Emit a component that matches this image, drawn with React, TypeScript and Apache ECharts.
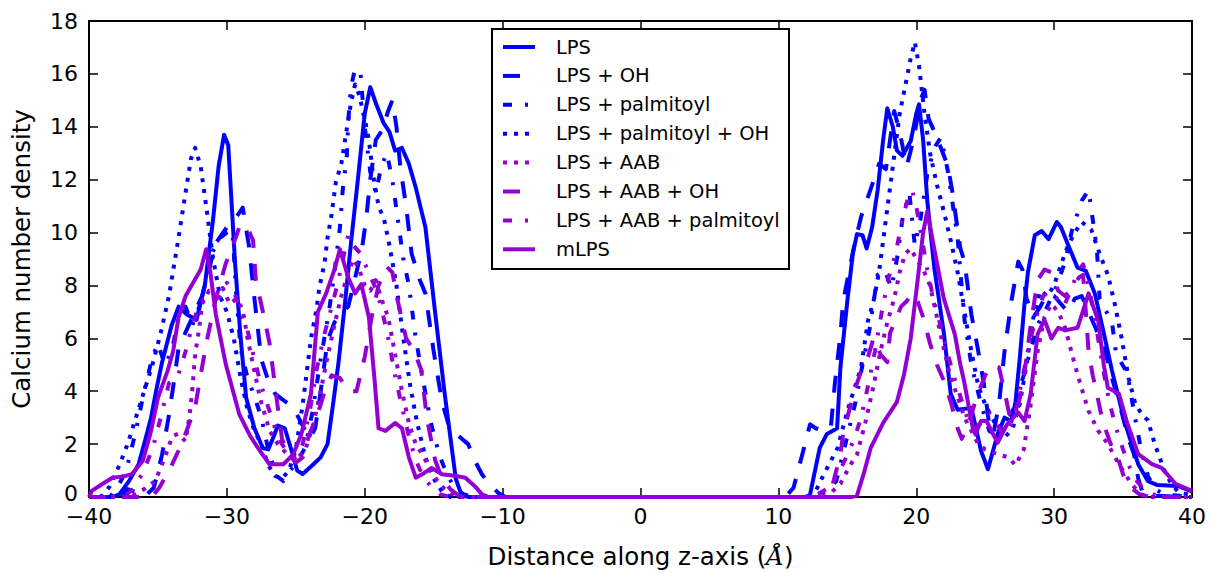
import React, { useEffect, useRef } from "react";
import * as echarts from "echarts";

type P = [number, number];

const BLUE = "#0000ff";
const PURPLE = "#9400d3";

const seriesNames = [
  "LPS",
  "LPS + OH",
  "LPS + palmitoyl",
  "LPS + palmitoyl + OH",
  "LPS + AAB",
  "LPS + AAB + OH",
  "LPS + AAB + palmitoyl",
  "mLPS",
];

const xTicks = [-40, -30, -20, -10, 0, 10, 20, 30, 40];
const yTicks = [0, 2, 4, 6, 8, 10, 12, 14, 16, 18];

const lps: P[] = [
  [-40, 0], [-38.3, 0], [-37.8, 0.1], [-37.1, 0.6], [-36.4, 1.24], [-35.9, 2.2], [-35.5, 3.0], [-35.1, 4.1],
  [-34.7, 5.1], [-34.3, 5.9], [-34, 6.5], [-33.5, 7.2], [-32.9, 6.9], [-32.2, 6.7], [-31.6, 8.0], [-31, 10.5],
  [-30.6, 12.5], [-30.2, 13.7], [-29.9, 13.3], [-29.7, 11.5], [-29.4, 8.8], [-29, 6], [-28.6, 3.75], [-28, 2.6],
  [-27.4, 1.85], [-27, 1.8], [-26.6, 2.3], [-26.3, 2.7], [-25.8, 2.6], [-25.3, 1.74], [-24.9, 1.0], [-24.5, 0.87],
  [-23.8, 1.2], [-23.2, 1.5], [-22.7, 2.0], [-22.3, 3.5], [-21.9, 5.1], [-21.4, 7.5], [-21.0, 9.6], [-20.5, 12],
  [-20.0, 14.5], [-19.6, 15.5], [-19.2, 14.9], [-18.65, 14.16], [-18.2, 13.8], [-17.8, 13.1], [-17.3, 13.2],
  [-16.8, 12.6], [-16.3, 11.7], [-15.6, 10.2], [-14.9, 7.0], [-14.2, 3.9], [-13.4, 0.7], [-13.0, 0.1], [-12.5, 0],
  [12.0, 0], [12.3, 0.1], [13.0, 1.86], [13.5, 2.37], [14.26, 2.6], [14.5, 4.9], [15.0, 7.4], [15.4, 9.2],
  [15.7, 9.94], [16.1, 9.9], [16.4, 9.4], [16.8, 10.2], [17.2, 11.6], [17.6, 13.5], [17.9, 14.7], [18.3, 14.0],
  [18.6, 13.1], [19.0, 12.9], [19.6, 13.46], [20.0, 14.5], [20.2, 14.85], [20.5, 13.5], [20.8, 11.2], [21.3, 8.7],
  [22.0, 6.2], [22.5, 3.9], [23.0, 3.3], [24.0, 3.37], [24.7, 1.74], [25.2, 1.05], [25.9, 2.37], [26.4, 3.0],
  [26.9, 2.87], [27.2, 3.6], [27.5, 5.2], [27.85, 7.3], [28.1, 8.5], [28.6, 9.9], [29.1, 10.06], [29.6, 9.75],
  [30.2, 10.4], [30.5, 10.2], [31.0, 9.55], [31.7, 8.67], [32.3, 8.55], [32.95, 7.7], [33.6, 6.2], [34.2, 4.77],
  [35.1, 2.87], [36.1, 1.24], [36.8, 0.6], [37.5, 0.45], [39.0, 0.42], [40, 0.2],
];

const lpsOH: P[] = [
  [-40, 0], [-37.6, 0], [-37.2, 0.3], [-36.7, 0.2], [-36, 0], [-35.3, 0.35], [-34.7, 1.6], [-34.2, 3.1],
  [-33.8, 4.5], [-33.5, 5.65], [-32.5, 6.8], [-31.8, 7.6], [-31.2, 8.8], [-30.8, 9.6], [-30, 10.2], [-29.3, 10.6],
  [-28.85, 10.94], [-28.4, 9.5], [-28, 7.5], [-27.5, 5.2], [-27, 4.4], [-26.5, 3.9], [-26, 3.7], [-25.2, 3.4],
  [-24.6, 2.8], [-24.0, 2.2], [-23.6, 2.6], [-23.3, 3.6], [-22.7, 5.9], [-22.2, 6.6], [-21.6, 7.0], [-21.2, 7.2],
  [-20.6, 8.5], [-20.2, 9.4], [-19.9, 10.5], [-19.6, 12.0], [-19.2, 13.5], [-18.7, 13.9], [-18.3, 14.6],
  [-18.0, 15.0], [-17.7, 14.0], [-17.4, 12.4], [-17.0, 11.0], [-16.6, 9.2], [-16.0, 8.2], [-15.6, 7.7],
  [-15.0, 5.5], [-14.4, 3.6], [-13.9, 2.7], [-13.4, 2.4], [-12.5, 2.0], [-12.0, 1.36], [-11.5, 0.86],
  [-11.0, 0.5], [-10.3, 0.15], [-9.8, 0],
  [10.5, 0], [11.1, 0.35], [11.8, 1.74], [12.3, 2.75], [12.7, 2.6], [13.3, 2.5], [13.8, 2.6], [14.1, 4.3],
  [14.5, 6.15], [14.7, 7.4], [15.0, 8.2], [15.5, 9.5], [16.0, 10.6], [16.8, 11.8], [17.3, 12.6], [17.8, 12.4],
  [18.4, 14.6], [18.8, 13.8], [19.3, 12.5], [19.8, 13.5], [20.3, 15.0], [20.6, 15.4], [20.9, 14.3], [21.5, 13.6],
  [22.3, 12.5], [22.6, 11.6], [23.2, 9.4], [23.5, 8.9], [24.0, 6.9], [24.5, 5.5], [24.9, 4.3], [25.3, 2.7],
  [25.6, 2.4], [26.0, 3.5], [26.4, 5.5], [26.9, 7.4], [27.4, 8.9], [27.7, 8.6], [28.0, 7.5], [28.5, 6.8],
  [29.0, 7.2], [29.5, 7.7], [30.0, 7.6], [30.5, 7.3], [31.0, 7.0], [31.5, 7.5], [32.0, 7.6], [32.5, 7.0],
  [33.0, 6.4], [33.7, 5.5], [34.3, 4.3], [34.8, 3.4], [35.4, 2.2], [35.8, 1.6], [36.1, 0.7], [36.4, 0.2],
  [37, 0.05], [40, 0],
];

const lpsPal: P[] = [
  [-40, 0], [-38.5, 0], [-38, 0.3], [-37.3, 1.0], [-36.6, 2.5], [-36, 4], [-35.4, 5.3], [-35, 5.8], [-34.5, 5.0],
  [-34, 5.5], [-33.5, 6.8], [-33, 7.2], [-32.5, 6.5], [-32, 7.2], [-31.5, 8.2], [-31, 9.3], [-30.5, 9.8],
  [-30, 10.0], [-29.6, 10.1], [-29.3, 7.5], [-29.0, 5.6], [-28.5, 4.5], [-28.0, 3.8], [-27.5, 3.0], [-27.0, 1.8],
  [-26.4, 0.8], [-25.9, 0.6], [-25.4, 1.0], [-24.8, 1.4], [-24.3, 1.9], [-23.8, 3.2], [-23.2, 5.2], [-22.6, 7.0],
  [-22.2, 8.5], [-21.8, 10.2], [-21.6, 11.6], [-21.3, 12.9], [-21.2, 14.2], [-21.0, 15.5], [-20.7, 16.2],
  [-20.3, 16.0], [-20.0, 14.0], [-19.6, 12.3], [-19.2, 11.5], [-18.8, 12.5], [-18.4, 13.0], [-18.0, 12.0],
  [-17.6, 10.5], [-17.2, 9.0], [-16.8, 8.0], [-16.3, 6.0], [-15.8, 4.5], [-15.2, 2.8], [-14.6, 1.6], [-14.0, 0.8],
  [-13.4, 0.3], [-12.8, 0.1], [-12, 0],
  [12.5, 0], [13.5, 0.2], [14.2, 0.6], [15, 2.3], [15.6, 3.6], [16.1, 5.0], [16.6, 6.3], [17.2, 8.4], [17.7, 8.6],
  [18.2, 7.9], [18.6, 9.0], [19.0, 10.5], [19.5, 11.5], [19.9, 9.5], [20.3, 10.5], [20.8, 12.2], [21.3, 13.2],
  [21.8, 13.6], [22.3, 12.3], [23.0, 9.8], [23.5, 6.7], [24.0, 5.0], [24.7, 3.5], [25.3, 2.5], [26.0, 2.3],
  [26.6, 2.8], [27.2, 3.5], [28, 5], [28.8, 6.5], [29.5, 7.2], [30.2, 8], [30.8, 8.9], [31.3, 10.1], [32, 11.2],
  [32.5, 11.6], [32.8, 10.5], [33.1, 9.4], [33.3, 7.5], [33.8, 7.0], [34.2, 6.6], [34.5, 5.4], [35.3, 4.7],
  [35.8, 3.2], [36.3, 1.8], [36.8, 0.8], [37.3, 0.3], [38, 0.1], [40, 0],
];

const lpsPalOH: P[] = [
  [-40, 0], [-39, 0.05], [-38.5, 0.4], [-37.8, 1.2], [-37.2, 2.0], [-36.6, 3.0], [-36.0, 4.0], [-35.4, 5.0],
  [-34.8, 6.2], [-34.2, 7.6], [-33.6, 9.5], [-33.0, 11.5], [-32.6, 12.8], [-32.3, 13.2], [-31.9, 12.5],
  [-31.5, 11.0], [-31.0, 9.0], [-30.5, 7.6], [-30.0, 7.0], [-29.5, 6.0], [-29.0, 4.5], [-28.5, 3.3], [-28.0, 2.5],
  [-27.5, 2.0], [-27.0, 1.2], [-26.5, 0.8], [-26.0, 0.7], [-25.5, 1.0], [-25.0, 1.8], [-24.5, 3.5], [-23.9, 6.0],
  [-23.5, 7.1], [-23.3, 7.9], [-22.9, 8.9], [-22.7, 9.8], [-22.4, 10.7], [-22.1, 11.9], [-21.7, 12.6],
  [-21.4, 13.6], [-21.0, 14.9], [-20.7, 15.6], [-20.4, 15.2], [-20.0, 14.3], [-19.7, 13.5], [-19.4, 12.2],
  [-19.0, 11.0], [-18.6, 10.5], [-18.2, 9.5], [-17.7, 8.0], [-17.2, 6.0], [-16.7, 4.2], [-16.2, 2.8],
  [-15.6, 1.5], [-15.0, 0.7], [-14.4, 0.2], [-13.8, 0],
  [12.5, 0], [13.3, 0.86], [14.3, 1.86], [15, 3.25], [16, 4.9], [16.5, 6.66], [16.9, 7.4], [17.3, 8.5],
  [17.8, 10.5], [18.3, 12.5], [18.8, 14.5], [19.3, 15.8], [19.6, 16.6], [19.9, 17.2], [20.2, 16.3], [20.6, 14.5],
  [21.0, 13.0], [21.5, 11.8], [22.0, 10.8], [22.5, 9.7], [23.0, 8.5], [23.5, 7.0], [24.0, 5.5], [24.5, 4.2],
  [25.0, 3.5], [25.5, 3.0], [26.0, 2.5], [26.5, 2.3], [27.0, 2.6], [27.5, 3.5], [28, 5], [28.5, 6.8], [29, 7.8],
  [29.5, 7.6], [30, 8.0], [30.5, 8.8], [31, 9.5], [31.5, 10.0], [32, 10.4], [32.7, 10.1], [33.3, 9.2],
  [33.9, 8.4], [34.4, 7.3], [34.9, 6.0], [35.4, 4.5], [35.9, 3.5], [36.4, 3.1], [36.8, 2.9], [37.3, 2.0],
  [38, 1.0], [38.5, 0.5], [39, 0.2], [40, 0.05],
];

const lpsAAB: P[] = [
  [-40, 0], [-37, 0], [-36, 0.3], [-35.2, 0.6], [-34.5, 1.5], [-33.95, 2.3], [-33.5, 2.4], [-33, 2.1],
  [-32.7, 3.1], [-32.5, 4.1], [-32.3, 5.4], [-32, 6.4], [-31.8, 7.3], [-31.3, 7.8], [-30.8, 7.6], [-30.3, 7.9],
  [-29.8, 7.3], [-29.3, 7.5], [-28.85, 7.1], [-28.5, 6.0], [-28.1, 5.0], [-27.6, 3.75], [-26.9, 2.5],
  [-26.3, 2.0], [-25.6, 1.6], [-25, 1.4], [-24.3, 1.8], [-23.7, 2.8], [-23.2, 4.0], [-22.7, 5.3], [-22.2, 6.5],
  [-21.7, 7.6], [-21.2, 8.5], [-20.8, 9.0], [-20.4, 8.6], [-20.0, 8.0], [-19.6, 7.8], [-19.2, 8.2],
  [-18.8, 7.5], [-18.3, 6.8], [-17.8, 5.4], [-17.3, 4.0], [-16.8, 2.8], [-16.3, 2.0], [-15.8, 1.6],
  [-15.2, 1.0], [-14.6, 0.5], [-14.0, 0.2], [-13.3, 0],
  [13.5, 0], [14.5, 0.5], [15.2, 1.2], [15.7, 1.6], [16.3, 2.8], [16.9, 4.2], [17.4, 5.5], [17.9, 6.6],
  [18.4, 7.5], [18.8, 8.5], [19.2, 9.2], [19.6, 9.4], [20.0, 9.0], [20.5, 8.6], [21.0, 8.0], [21.5, 6.8],
  [22.0, 5.6], [22.5, 4.5], [23.0, 3.8], [23.5, 3.0], [24.0, 2.5], [24.5, 2.0], [25.0, 1.8], [25.5, 1.7],
  [26.0, 1.6], [26.7, 1.5], [27.2, 1.2], [27.8, 1.8], [28.3, 3.5], [28.8, 5.5], [29.3, 6.8], [29.8, 7.3],
  [30.3, 7.0], [30.8, 6.4], [31.0, 6.0], [31.5, 5.0], [32, 4.1], [32.5, 3.25], [33.2, 2.5], [33.9, 2.0],
  [34.7, 1.24], [35.6, 0.5], [36.3, 0.1], [37, 0], [40, 0],
];

const lpsAABOH: P[] = [
  [-40, 0], [-36, 0], [-35.3, 0.1], [-34.9, 0.35], [-34, 1.2], [-33.2, 2.1], [-32.3, 3.4], [-31.5, 5.8],
  [-30.8, 7.5], [-30.1, 8.8], [-29.5, 9.6], [-29.1, 10.2], [-28.6, 10.3], [-28.1, 9.7], [-27.9, 8.2],
  [-27.3, 6.8], [-26.9, 5.8], [-26.4, 3.75], [-26.0, 2.2], [-25.5, 1.6], [-25, 1.3], [-24.5, 1.5], [-24.0, 2.4],
  [-23.5, 3.0], [-22.9, 4.0], [-22.4, 4.6], [-21.8, 4.5], [-21.2, 4.0], [-20.6, 4.0], [-20.0, 5.3], [-19.5, 6.8],
  [-19.0, 8.0], [-18.4, 8.7], [-18.0, 8.5], [-17.6, 7.4], [-17.0, 6.0], [-16.4, 5.5], [-15.9, 4.8], [-15.5, 3.0],
  [-14.9, 1.4], [-14.4, 0.7], [-13.8, 0.3], [-13.2, 0.05], [-12.5, 0],
  [13.0, 0], [13.8, 0.2], [14.0, 0.6], [14.5, 1.6], [14.7, 2.4], [15.2, 3.4], [15.7, 4.3], [16.1, 4.9],
  [16.5, 5.3], [16.9, 6.0], [17.4, 5.4], [17.9, 5.1], [18.1, 6.2], [18.9, 7.2], [19.3, 7.4], [19.7, 7.7],
  [20.1, 7.4], [20.5, 6.8], [21.0, 5.8], [21.5, 5.0], [22.0, 4.4], [22.5, 3.6], [23.0, 2.6], [23.3, 2.2],
  [23.8, 2.8], [24.4, 3.8], [25.0, 4.6], [25.5, 5.0], [26.0, 4.9], [26.4, 4.0], [26.8, 3.0], [27.3, 3.2],
  [27.8, 4.5], [28.3, 6.5], [28.8, 8.2], [29.3, 8.6], [29.8, 8.5], [30.3, 7.8], [30.8, 7.6], [31.3, 7.9],
  [31.8, 8.3], [32.1, 8.4], [32.3, 7.0], [32.5, 5.5], [32.8, 4.6], [33.1, 3.9], [33.5, 2.9], [34.2, 1.86],
  [34.7, 1.36], [35.1, 0.7], [35.6, 0.35], [36.2, 0.1], [37, 0], [40, 0],
];

const lpsAABPal: P[] = [
  [-40, 0], [-37.5, 0], [-36.8, 0.3], [-36, 1.0], [-35.3, 2.0], [-34.8, 3.0], [-34.2, 4.3], [-33.6, 4.5],
  [-33, 5.5], [-32.5, 6.5], [-32, 7.3], [-31.5, 7.6], [-31, 7.4], [-30.5, 7.6], [-30, 8.1], [-29.5, 7.8],
  [-29.0, 7.0], [-28.5, 6.3], [-28.0, 5.2], [-27.5, 4.2], [-27.0, 3.4], [-26.5, 2.6], [-26, 2.0], [-25.5, 1.6],
  [-25, 1.5], [-24.5, 2.0], [-24, 3.2], [-23.5, 4.8], [-23, 6.0], [-22.5, 7.0], [-22, 8.0], [-21.5, 9.2],
  [-21.2, 9.9], [-20.8, 9.5], [-20.3, 9.2], [-19.8, 8.6], [-19.3, 8.0], [-18.8, 7.2], [-18.3, 6.0],
  [-17.8, 4.6], [-17.3, 3.4], [-16.8, 2.3], [-16.3, 1.4], [-15.8, 0.8], [-15.2, 0.4], [-14.5, 0.1], [-13.8, 0],
  [12.5, 0], [13.5, 0.3], [14.3, 0.8], [15.0, 1.6], [15.5, 2.2], [16.0, 3.0], [16.5, 4.2], [17.0, 5.5],
  [17.5, 7.0], [18.0, 8.3], [18.5, 9.2], [19.0, 10.5], [19.4, 11.3], [19.7, 11.6], [20.0, 11.0], [20.4, 9.8],
  [20.8, 8.6], [21.2, 7.6], [21.7, 6.6], [22.2, 5.6], [22.7, 4.6], [23.2, 3.8], [23.7, 3.0], [24.2, 2.6],
  [24.7, 2.8], [25.2, 3.2], [25.7, 3.0], [26.2, 2.4], [26.7, 2.5], [27.2, 3.2], [27.7, 4.5], [28.2, 5.8],
  [28.7, 6.8], [29.2, 7.6], [29.7, 7.8], [30.2, 7.5], [30.7, 7.2], [31.2, 7.8], [31.7, 8.5], [32.1, 8.8],
  [32.5, 8.0], [33.0, 6.6], [33.5, 5.0], [34.0, 3.6], [34.5, 2.6], [35.0, 1.8], [35.5, 1.1], [36.0, 0.6],
  [36.5, 0.3], [37.2, 0.1], [38, 0], [40, 0],
];

const mlps: P[] = [
  [-40, 0], [-39.8, 0.23], [-39, 0.5], [-38.3, 0.73], [-37.5, 0.78], [-36.9, 0.86], [-36.1, 1.36], [-35.5, 2.5],
  [-35.0, 3.75], [-34.3, 4.77], [-33.9, 5.5], [-33.5, 6.8], [-33, 7.6], [-32.5, 8.05], [-31.9, 8.6],
  [-31.5, 9.37], [-31.2, 8.5], [-30.8, 6.9], [-30.07, 5.0], [-29.1, 3.13], [-28.3, 2.3], [-27.6, 1.74],
  [-26.9, 1.24], [-25.9, 1.24], [-25.2, 1.6], [-24.6, 2.37], [-23.9, 3.9], [-23.4, 7.0], [-22.8, 7.7],
  [-22.2, 8.6], [-21.8, 9.37], [-21.2, 8.3], [-20.7, 7.7], [-20.25, 8.05], [-19.7, 6.8], [-19.3, 4.5],
  [-19.0, 2.6], [-18.5, 2.5], [-17.8, 2.8], [-17.3, 2.6], [-16.8, 1.5], [-16.3, 0.73], [-15.7, 0.9],
  [-15.15, 1.1], [-14.4, 0.86], [-13.5, 0.8], [-12.7, 0.73], [-12.0, 0.4], [-11.5, 0.1], [-11, 0],
  [15.3, 0], [15.7, 0.05], [16.2, 0.9], [16.7, 1.86], [17.6, 2.8], [18.6, 3.6], [19.1, 4.6], [19.6, 6.0],
  [20.1, 8.2], [20.5, 10.0], [20.8, 10.8], [21.3, 9.4], [22.0, 7.5], [22.8, 6.15], [23.2, 5.0], [23.5, 4.3],
  [24.1, 2.6], [24.3, 2.37], [24.7, 2.87], [25.1, 2.87], [25.9, 2.05], [26.6, 2.76], [27.4, 3.2], [27.85, 2.87],
  [28.3, 3.9], [28.8, 6.15], [29.3, 6.7], [29.8, 6.0], [30.3, 6.4], [30.8, 6.3], [31.7, 6.4], [32.5, 7.7],
  [33.2, 6.66], [33.6, 5.0], [33.9, 4.13], [34.7, 3.9], [35.3, 2.8], [36.1, 1.62], [37.1, 1.24], [37.8, 1.1],
  [38.8, 0.5], [40, 0.23],
];

const DASHED = [17, 16];
const DASHDOT = [9, 13, 3, 13];
const DOTTED = [4, 7];

const seriesData: P[][] = [lps, lpsOH, lpsPal, lpsPalOH, lpsAAB, lpsAABOH, lpsAABPal, mlps];
const seriesColors = [BLUE, BLUE, BLUE, BLUE, PURPLE, PURPLE, PURPLE, PURPLE];
const seriesDash: (number[] | null)[] = [null, DASHED, DASHDOT, DOTTED, DOTTED, DASHED, DASHDOT, null];

const FONT = "DejaVu Sans";

const minus = (v: number) => (v < 0 ? "\u2212" + Math.abs(v) : String(v));

export default function App() {
  const ref = useRef<HTMLDivElement>(null);

  useEffect(() => {
    if (!ref.current) return;
    const chart = echarts.init(ref.current, null, { renderer: "svg" });

    const frameLine = { show: true, onZero: false, lineStyle: { color: "#000", width: 2 } };
    const tick = { show: true, inside: true, length: 9, lineStyle: { color: "#000", width: 1.5 } };

    const legendItems: any[] = [];
    const rowY0 = 47;
    const rowStep = 28.9;
    seriesNames.forEach((name, i) => {
      const y = rowY0 + i * rowStep;
      legendItems.push({
        type: "line",
        z: 101,
        shape: { x1: 503, y1: y, x2: 535, y2: y },
        style: {
          stroke: seriesColors[i],
          lineWidth: 4,
          lineDash: seriesDash[i] || null,
          lineCap: "butt",
        },
      });
      legendItems.push({
        type: "text",
        z: 101,
        x: 556,
        y: y,
        style: {
          text: name,
          fontSize: 19.5,
          fontFamily: FONT,
          fill: "#000",
          verticalAlign: "middle",
          align: "left",
        },
      });
    });

    const option: any = {
      animation: false,
      backgroundColor: "#fff",
      grid: {
        left: 89,
        right: 19,
        top: 21,
        bottom: 76,
        containLabel: false,
        outerBoundsMode: "none",
      },
      xAxis: [
        {
          type: "value",
          min: -40,
          max: 40,
          interval: 10,
          position: "bottom",
          axisLine: frameLine,
          axisTick: tick,
          splitLine: { show: false },
          axisLabel: {
            color: "#000",
            fontSize: 22,
            lineHeight: 18,
            fontFamily: FONT,
            margin: 10,
            showMinLabel: true,
            showMaxLabel: true,
            formatter: (v: number) => (xTicks.includes(v) ? minus(v) : ""),
          },
          name: "Distance along z-axis ({i|Å})",
          nameLocation: "middle",
          nameGap: 47,
          nameTextStyle: {
            color: "#000",
            fontSize: 24.5,
            fontFamily: FONT,
            rich: {
              i: { fontSize: 24.5, fontFamily: "DejaVu Serif", fontStyle: "italic", color: "#000" },
            },
          },
        },
        {
          type: "value",
          min: -40,
          max: 40,
          interval: 10,
          position: "top",
          axisLine: frameLine,
          axisTick: tick,
          splitLine: { show: false },
          axisLabel: { show: false },
        },
      ],
      yAxis: [
        {
          type: "value",
          min: 0,
          max: 18,
          interval: 2,
          position: "left",
          axisLine: frameLine,
          axisTick: tick,
          splitLine: { show: false },
          axisLabel: {
            color: "#000",
            fontSize: 22,
            lineHeight: 18,
            fontFamily: FONT,
            margin: 11,
            showMinLabel: true,
            showMaxLabel: true,
            formatter: (v: number) =>
              v === 0 ? "{z|0}" : yTicks.includes(v) ? String(v) : "",
            rich: {
              z: {
                fontSize: 22,
                lineHeight: 18,
                fontFamily: FONT,
                color: "#000",
                padding: [0, 0, 8, 0],
              },
            },
          },
          name: "Calcium number density",
          nameLocation: "middle",
          nameGap: 55,
          nameTextStyle: { color: "#000", fontSize: 24.5, fontFamily: FONT },
        },
        {
          type: "value",
          min: 0,
          max: 18,
          interval: 2,
          position: "right",
          axisLine: frameLine,
          axisTick: tick,
          splitLine: { show: false },
          axisLabel: { show: false },
        },
      ],
      series: seriesData.map((d, i) => ({
        name: seriesNames[i],
        type: "line",
        xAxisIndex: 0,
        yAxisIndex: 0,
        data: d,
        symbol: "none",
        showSymbol: false,
        clip: true,
        silent: true,
        lineStyle: {
          color: seriesColors[i],
          width: 4,
          type: seriesDash[i] || "solid",
          cap: "butt",
          join: "round",
        },
        emphasis: { disabled: true },
        z: 2 + i * 0.01,
      })),
      graphic: [
        {
          type: "rect",
          z: 100,
          shape: { x: 492, y: 29, width: 297, height: 240 },
          style: { fill: "#fff", stroke: "#000", lineWidth: 2 },
        },
        ...legendItems,
      ],
    };

    chart.setOption(option);
    return () => chart.dispose();
  }, []);

  return (
    <div
      ref={ref}
      style={{ position: "fixed", left: 0, top: 0, width: 1211, height: 573, background: "#fff" }}
    />
  );
}
